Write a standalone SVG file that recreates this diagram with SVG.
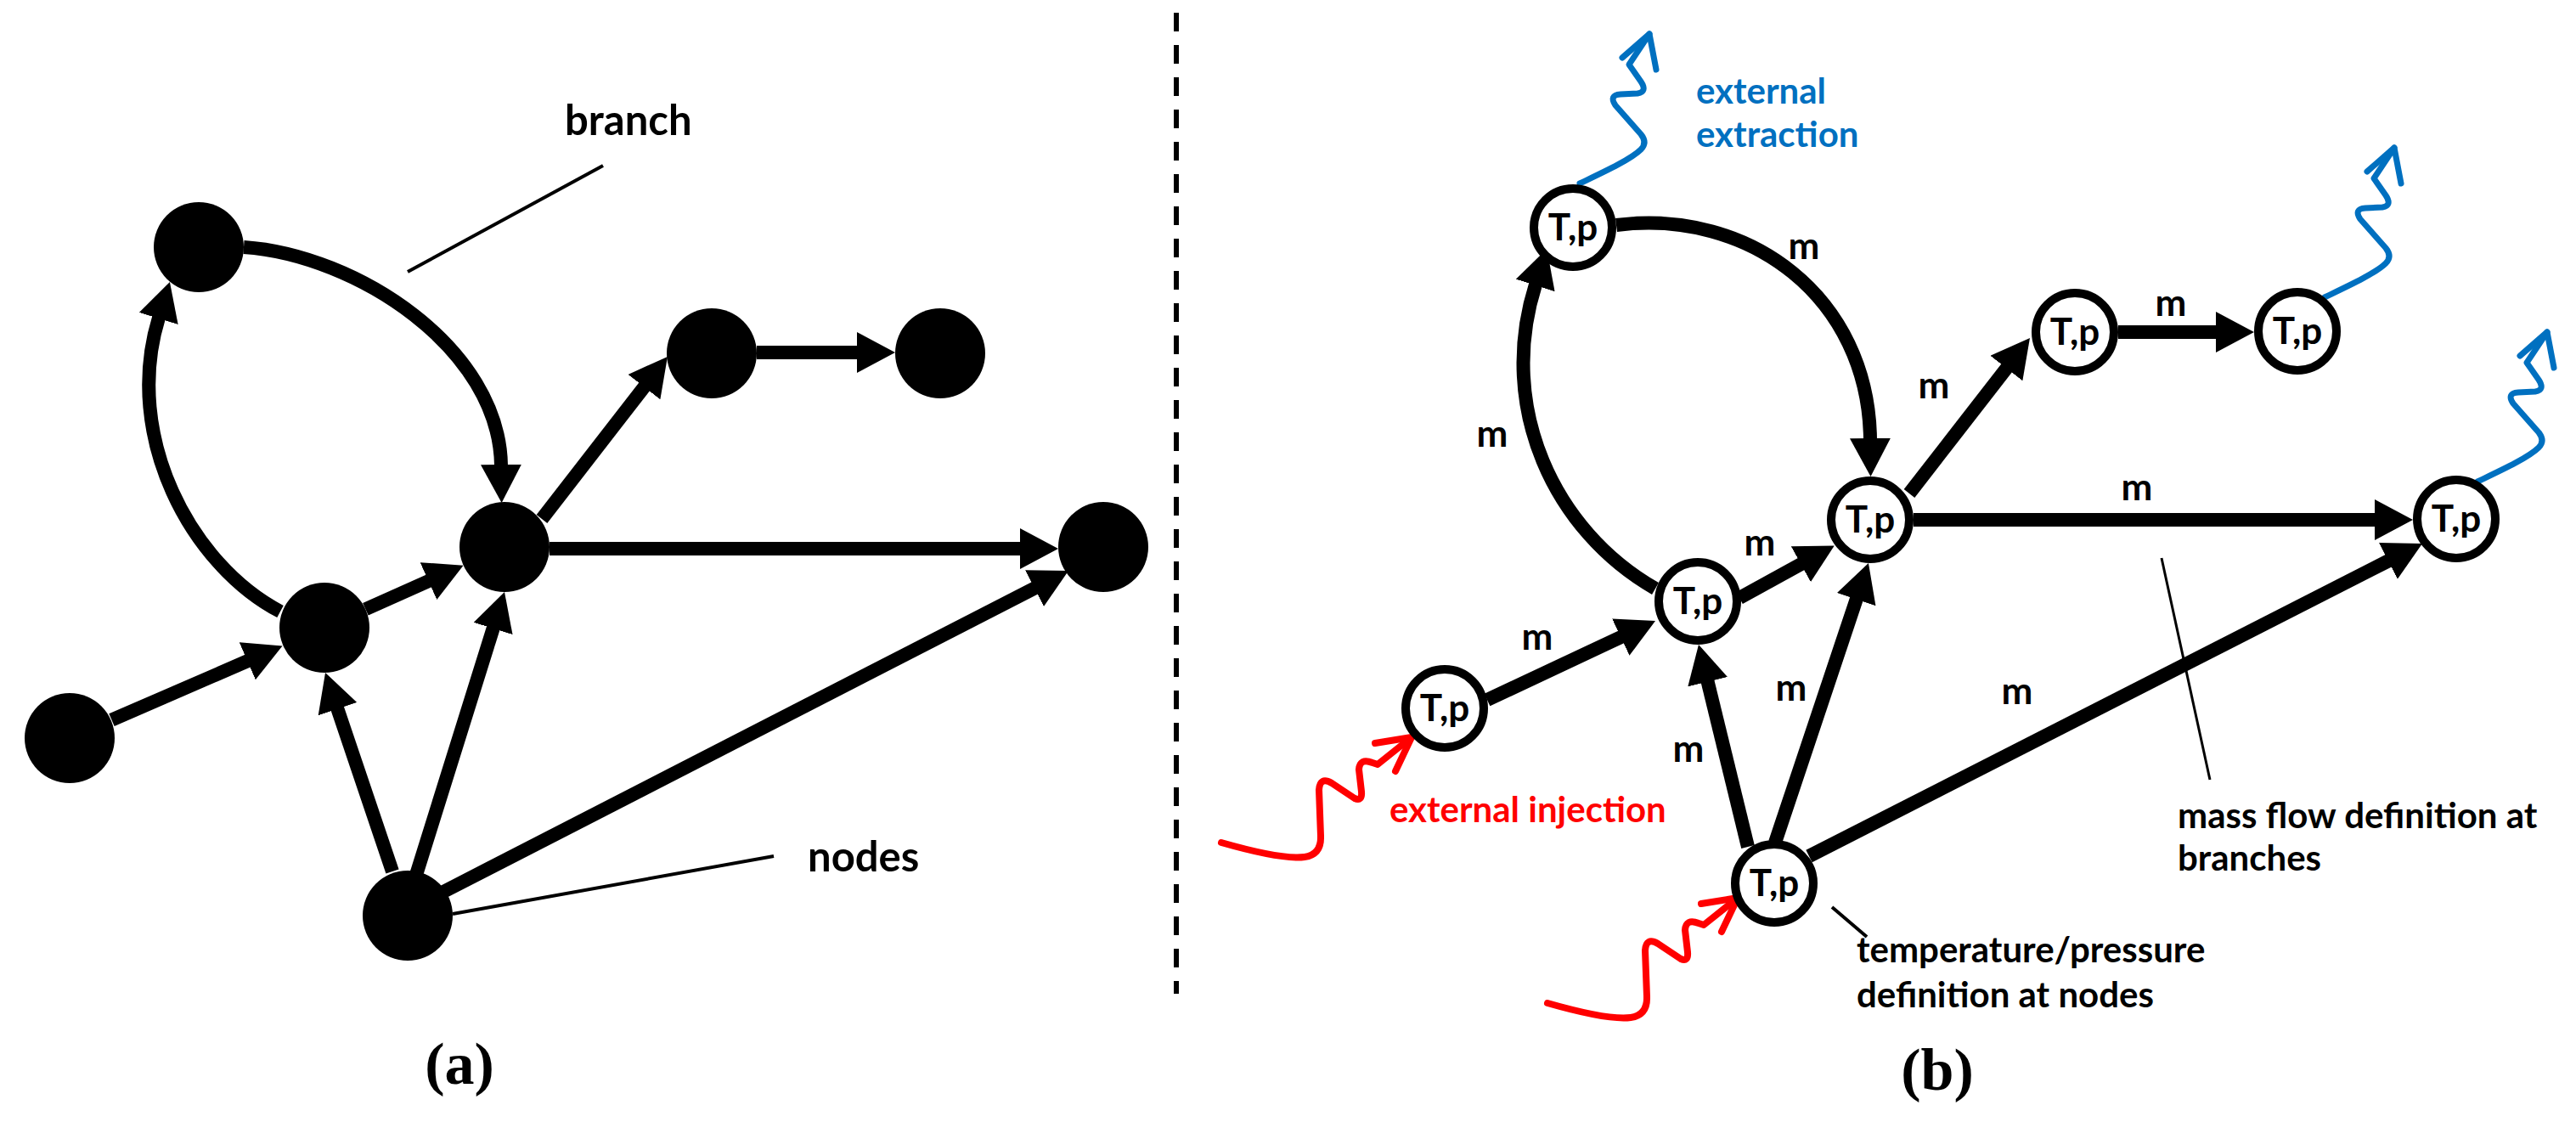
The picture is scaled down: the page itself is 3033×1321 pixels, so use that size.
<svg xmlns="http://www.w3.org/2000/svg" width="3033" height="1321" viewBox="0 0 3033 1321">
<style>
.edge{fill:none;stroke:#000;stroke-width:16;marker-end:url(#ah)}
.solid{fill:#000}
.ring circle{fill:#fff;stroke:#000;stroke-width:10}
.ring text{font-family:Lato,"Liberation Sans",sans-serif;font-size:44px;font-weight:bold;text-anchor:middle;fill:#000}
.m{font-family:Lato,"Liberation Sans",sans-serif;font-size:44px;font-weight:bold;text-anchor:middle;fill:#000}
.lbl{font-family:Lato,"Liberation Sans",sans-serif;font-size:42px;font-weight:bold;fill:#000}
.big{font-family:Lato,"Liberation Sans",sans-serif;font-size:49px;font-weight:bold;fill:#000}
.lead{stroke:#000;stroke-width:4;fill:none}
.sqb{fill:none;stroke:#0070C0;stroke-width:7;stroke-linecap:round;stroke-linejoin:round}
.sqr{fill:none;stroke:#FF0000;stroke-width:8;stroke-linecap:round;stroke-linejoin:round}
.cap{font-family:"Liberation Serif",serif;font-size:70px;font-weight:bold;text-anchor:middle;fill:#000}
</style>
<defs>
<marker id="ah" markerUnits="userSpaceOnUse" viewBox="0 0 46 48" markerWidth="46" markerHeight="48" refX="1" refY="24" orient="auto">
<path d="M0,0 L45,24 L0,48 z" fill="#000"/>
</marker>
<g id="sqBlue">
<path class="sqb" d="M0,0 C25,-12 60,-28 72,-40 Q80,-48 72,-58 L42,-92 Q34,-104 48,-105 L68,-106 Q80,-108 72,-120 L58,-140 L82,-176"/>
<path class="sqb" d="M50,-148 L82,-176 L90,-134"/>
</g>
<g id="sqRed">
<path class="sqr" d="M0,0 C35,10 75,20 98,17 Q118,14 117,-8 L115,-62 Q116,-78 130,-70 L157,-52 Q166,-48 165,-60 L162,-86 Q163,-100 178,-94 L184,-92 L224,-124"/>
<path class="sqr" d="M181,-117 L224,-124 L205,-84"/>
</g>
</defs>
<rect width="3033" height="1321" fill="#fff"/>

<!-- divider -->
<line x1="1385" y1="15" x2="1385" y2="1170" stroke="#000" stroke-width="6" stroke-dasharray="22 16"/>

<!-- Panel (a) connectors -->
<g id="connectors-a">
<line class="edge" x1="131.5" y1="847.6" x2="292.2" y2="777.9"/>
<line class="edge" x1="430.4" y1="717.3" x2="505.4" y2="683.7"/>
<line class="edge" x1="638" y1="611" x2="759" y2="454.8"/>
<line class="edge" x1="891" y1="415" x2="1010" y2="415"/>
<line class="edge" x1="647" y1="646" x2="1202" y2="646"/>
<line class="edge" x1="462" y1="1026" x2="397.1" y2="833.7"/>
<line class="edge" x1="490" y1="1030" x2="580.9" y2="739"/>
<line class="edge" x1="522" y1="1050" x2="1218.9" y2="692.1"/>
<path class="edge" d="M330,720 C225,665 144,514 187,374"/>
<path class="edge" d="M287,291 C420,300 588,410 590,548"/>
</g>

<!-- Panel (a) nodes -->
<g id="a-node-A"><circle class="solid" cx="234" cy="291" r="53"/></g>
<g id="a-node-B"><circle class="solid" cx="82" cy="869" r="53"/></g>
<g id="a-node-C"><circle class="solid" cx="382" cy="739" r="53"/></g>
<g id="a-node-D"><circle class="solid" cx="594" cy="644" r="53"/></g>
<g id="a-node-E"><circle class="solid" cx="838" cy="416" r="53"/></g>
<g id="a-node-F"><circle class="solid" cx="1107" cy="416" r="53"/></g>
<g id="a-node-G"><circle class="solid" cx="1299" cy="644" r="53"/></g>
<g id="a-node-H"><circle class="solid" cx="480" cy="1078" r="53"/></g>

<!-- Panel (a) annotations -->
<g id="a-labels">
<line class="lead" x1="480" y1="320" x2="710" y2="195"/>
<text class="big" x="665" y="159">branch</text>
<line class="lead" x1="533" y1="1076" x2="911" y2="1008"/>
<text class="big" x="951" y="1026">nodes</text>
<text class="cap" x="541" y="1276">(a)</text>
</g>

<!-- Panel (b) connectors -->
<g id="connectors-b">
<line class="edge" x1="1751" y1="824" x2="1909.2" y2="749.7"/>
<line class="edge" x1="2048" y1="704" x2="2121.2" y2="663.7"/>
<line class="edge" x1="2058" y1="997" x2="2010.4" y2="801.7"/>
<line class="edge" x1="2090" y1="992" x2="2186" y2="704.7"/>
<line class="edge" x1="2130" y1="1008" x2="2812.8" y2="660"/>
<line class="edge" x1="2248" y1="581" x2="2363" y2="432.8"/>
<line class="edge" x1="2494" y1="391" x2="2610" y2="391"/>
<line class="edge" x1="2253" y1="612" x2="2797" y2="612"/>
<path class="edge" d="M1949,693 C1830,625 1762,480 1808,335"/>
<path class="edge" d="M1903,265 C2060,245 2200,350 2202,517"/>
</g>

<!-- external flows -->
<g id="external-flows">
<use href="#sqBlue" x="1860" y="216"/>
<use href="#sqBlue" x="2737" y="350"/>
<use href="#sqBlue" x="2917" y="567"/>
<use href="#sqRed" x="1438" y="992"/>
<use href="#sqRed" x="1822" y="1181"/>
</g>

<!-- Panel (b) nodes -->
<g id="b-node-1" class="ring"><circle cx="1852" cy="268" r="46"/><text x="1852" y="283">T,p</text></g>
<g id="b-node-2" class="ring"><circle cx="1999" cy="708" r="46"/><text x="1999" y="723">T,p</text></g>
<g id="b-node-3" class="ring"><circle cx="2202" cy="612" r="46"/><text x="2202" y="627">T,p</text></g>
<g id="b-node-4" class="ring"><circle cx="2443" cy="391" r="46"/><text x="2443" y="406">T,p</text></g>
<g id="b-node-5" class="ring"><circle cx="2705" cy="390" r="46"/><text x="2705" y="405">T,p</text></g>
<g id="b-node-6" class="ring"><circle cx="2892" cy="611" r="46"/><text x="2892" y="626">T,p</text></g>
<g id="b-node-7" class="ring"><circle cx="1701" cy="834" r="46"/><text x="1701" y="849">T,p</text></g>
<g id="b-node-8" class="ring"><circle cx="2089" cy="1040" r="46"/><text x="2089" y="1055">T,p</text></g>

<!-- Panel (b) labels -->
<g id="b-labels">
<text class="m" x="2124" y="305">m</text>
<text class="m" x="1757" y="526">m</text>
<text class="m" x="2556" y="372">m</text>
<text class="m" x="2277" y="469">m</text>
<text class="m" x="2516" y="589">m</text>
<text class="m" x="2072" y="654">m</text>
<text class="m" x="1810" y="765">m</text>
<text class="m" x="1988" y="897">m</text>
<text class="m" x="2109" y="825">m</text>
<text class="m" x="2375" y="829">m</text>
<text class="lbl" x="1997" y="122" style="fill:#0070C0">external</text>
<text class="lbl" x="1997" y="173" style="fill:#0070C0">extraction</text>
<text class="lbl" x="1636" y="968" style="fill:#FF0000">external injection</text>
<line class="lead" x1="2545" y1="657" x2="2602" y2="918" style="stroke-width:3"/>
<text class="lbl" x="2564" y="975">mass flow definition at</text>
<text class="lbl" x="2564" y="1025">branches</text>
<line class="lead" x1="2157" y1="1068" x2="2198" y2="1103"/>
<text class="lbl" x="2186" y="1133">temperature/pressure</text>
<text class="lbl" x="2186" y="1186">definition at nodes</text>
<text class="cap" x="2281" y="1283">(b)</text>
</g>
</svg>
